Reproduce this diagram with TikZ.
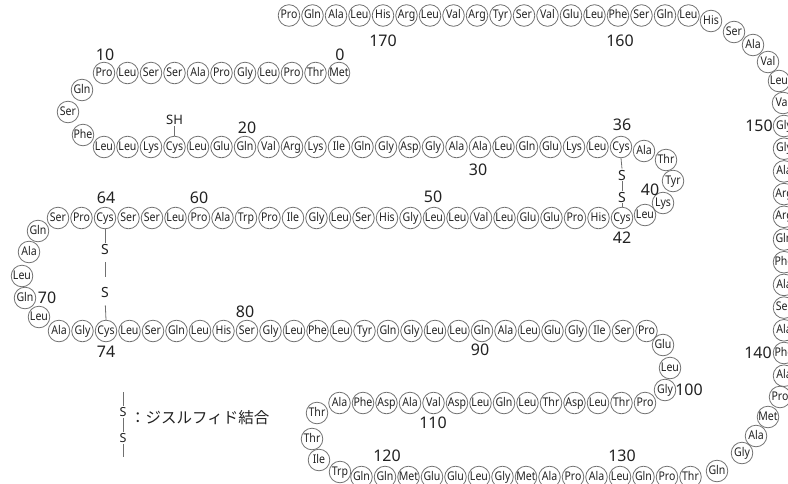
\documentclass[tikz,border=0pt]{standalone}
\usepackage{fontspec}
\setmainfont{Noto Sans}
\newfontfamily\resfont[FakeStretch=0.88]{Noto Sans}
\newfontfamily\jp{Noto Sans CJK JP}
\definecolor{ring}{HTML}{707070}
\definecolor{ink}{HTML}{222222}
\tikzset{
  res/.style={circle, draw=ring, line width=0.8pt, minimum size=21.6pt, inner sep=-3pt,
    font=\resfont\fontsize{12}{12}\selectfont, text=ink, text height=8.2pt, text depth=2pt},
  num/.style={font=\fontsize{16}{16}\selectfont, inner sep=0pt, text=ink},
  ssym/.style={font=\fontsize{14}{14}\selectfont, inner sep=1pt, text=ink},
  bond/.style={draw=ring, line width=0.8pt}
}
\begin{document}
\begin{tikzpicture}[x=1pt,y=-1pt]
\useasboundingbox (0,0) rectangle (788,483);
% top row 174..157
\foreach \n/\t in {174/Pro,173/Gln,172/Ala,171/Leu,170/His,169/Arg,168/Leu,167/Val,166/Arg,165/Tyr,164/Ser,163/Val,162/Glu,161/Leu,160/Phe,159/Ser,158/Gln,157/Leu}
  \node[res] (r\n) at ({383+(170-\n)*23.5},15.5) {\t};
% right curve and column
\node[res] (r156) at (711,21) {His};
\node[res] (r155) at (734,32) {Ser};
\node[res] (r154) at (753,45) {Ala};
\node[res] (r153) at (768,62) {Val};
\node[res] (r152) at (779,81) {Leu};
\node[res] (r151) at (783,103) {Val};
\foreach \n/\t in {150/Gly,149/Gly,148/Ala,147/Arg,146/Arg,145/Gln,144/Phe,143/Ala,142/Ser,141/Ala,140/Phe,139/Ala}
  \node[res] (r\n) at (784,{126+(150-\n)*22.7}) {\t};
\node[res] (r138) at (780,397) {Pro};
\node[res] (r137) at (768,417) {Met};
\node[res] (r136) at (756,436) {Ala};
\node[res] (r135) at (742,453) {Gly};
\node[res] (r134) at (717,471) {Gln};
% bottom row 133..119
\foreach \n/\t in {133/Thr,132/Pro,131/Gln,130/Leu,129/Ala,128/Pro,127/Ala,126/Met,125/Gly,124/Leu,123/Glu,122/Glu,121/Met,120/Gln,119/Gln}
  \node[res] (r\n) at ({385+(\n-120)*23.5},477) {\t};
\node[res] (r118) at (340,472) {Trp};
\node[res] (r117) at (319,460) {Ile};
\node[res] (r116) at (312,439) {Thr};
\node[res] (r115) at (317,413) {Thr};
% row 5: 114..101
\foreach \n/\t in {114/Ala,113/Phe,112/Asp,111/Ala,110/Val,109/Asp,108/Leu,107/Gln,106/Leu,105/Thr,104/Asp,103/Leu,102/Thr,101/Pro}
  \node[res] (r\n) at ({645-(\n-101)*23.5},403) {\t};
\node[res] (r100) at (665,390) {Gly};
\node[res] (r99) at (670,368) {Leu};
\node[res] (r98) at (663,345) {Glu};
% row 4: 72..97
\foreach \n/\t in {72/Ala,73/Gly,74/Cys,75/Leu,76/Ser,77/Gln,78/Leu,79/His,80/Ser,81/Gly,82/Leu,83/Phe,84/Leu,85/Tyr,86/Gln,87/Gly,88/Leu,89/Leu,90/Gln,91/Ala,92/Leu,93/Glu,94/Gly,95/Ile,96/Ser,97/Pro}
  \node[res] (r\n) at ({106+(\n-74)*23.5},331) {\t};
\node[res] (r71) at (39,317) {Leu};
\node[res] (r70) at (25,298) {Gln};
\node[res] (r69) at (22,276) {Leu};
\node[res] (r68) at (29,252) {Ala};
\node[res] (r67) at (38,231) {Gln};
% row 3: 66..42
\foreach \n/\t in {66/Ser,65/Pro,64/Cys,63/Ser,62/Ser,61/Leu,60/Pro,59/Ala,58/Trp,57/Pro,56/Ile,55/Gly,54/Leu,53/Ser,52/His,51/Gly,50/Leu,49/Leu,48/Val,47/Leu,46/Glu,45/Glu,44/Pro,43/His,42/Cys}
  \node[res] (r\n) at ({105+(64-\n)*23.5},218) {\t};
\node[res] (r41) at (645,215) {Leu};
\node[res] (r40) at (663,203) {Lys};
\node[res] (r39) at (673,181) {Tyr};
\node[res] (r38) at (666,160) {Thr};
\node[res] (r37) at (644,151) {Ala};
% row 2: 14..36
\foreach \n/\t in {14/Leu,15/Leu,16/Lys,17/Cys,18/Leu,19/Glu,20/Gln,21/Val,22/Arg,23/Lys,24/Ile,25/Gln,26/Gly,27/Asp,28/Gly,29/Ala,30/Ala,31/Leu,32/Gln,33/Glu,34/Lys,35/Leu,36/Cys}
  \node[res] (r\n) at ({104+(\n-14)*23.5},147) {\t};
\node[res] (r13) at (83,135) {Phe};
\node[res] (r12) at (68,112) {Ser};
\node[res] (r11) at (82,90) {Gln};
% row 1: 10..0
\foreach \n/\t in {10/Pro,9/Leu,8/Ser,7/Ser,6/Ala,5/Pro,4/Gly,3/Leu,2/Pro,1/Thr,0/Met}
  \node[res] (r\n) at ({104+(10-\n)*23.5},73) {\t};
% numbers
\node[num] (n0) at (340,55) {0};
\node[num] (n10) at (105,55) {10};
\node[num] (n20) at (247,128) {20};
\node[num] (n30) at (478,170) {30};
\node[num] (n36) at (622,125) {36};
\node[num] (n40) at (650,190) {40};
\node[num] (n42) at (622,238) {42};
\node[num] (n50) at (433,197) {50};
\node[num] (n60) at (199,198) {60};
\node[num] (n64) at (106,198) {64};
\node[num] (n70) at (47,298) {70};
\node[num] (n74) at (106,352) {74};
\node[num] (n80) at (245,312) {80};
\node[num] (n90) at (480,350) {90};
\node[num] (n100) at (689,390) {100};
\node[num] (n110) at (433,423) {110};
\node[num] (n120) at (387,456) {120};
\node[num] (n130) at (622,456) {130};
\node[num] (n140) at (758,353) {140};
\node[num] (n150) at (759,126) {150};
\node[num] (n160) at (620,41) {160};
\node[num] (n170) at (383,41) {170};
% SH on Cys17
\node[ssym, font=\fontsize{13}{13}\selectfont] (sh) at (174.5,120) {SH};
\draw[bond] (sh.south) -- (r17.north);
% disulfide 36-42
\node[ssym] (sa) at (622,175) {S};
\node[ssym] (sb) at (622,197) {S};
\draw[bond] (r36.south) -- (sa.north);
\draw[bond] (sa.south) -- (sb.north);
\draw[bond] (sb.south) -- (r42.north);
% disulfide 64-74
\node[ssym] (sc) at (105,249) {S};
\node[ssym] (sd) at (105,292) {S};
\draw[bond] (r64.south) -- (sc.north);
\draw[bond, shorten <=7pt, shorten >=9pt] (sc.south) -- (sd.north);
\draw[bond, shorten <=7pt] (sd.south) -- (r74.north);
% legend
\coordinate (lt) at (123,392);
\coordinate (lb) at (123,457);
\node[ssym, font=\fontsize{12.5}{12.5}\selectfont] (ls1) at (123,412) {S};
\node[ssym, font=\fontsize{12.5}{12.5}\selectfont] (ls2) at (123,438) {S};
\draw[bond] (lt) -- (ls1.north);
\draw[bond] (ls1.south) -- (ls2.north);
\draw[bond] (ls2.south) -- (lb);
\node[anchor=west, inner sep=0pt, text=ink, font=\jp\fontsize{15.5}{15.5}\selectfont] (leg) at (130,418) {：ジスルフィド結合};
\end{tikzpicture}
\end{document}
